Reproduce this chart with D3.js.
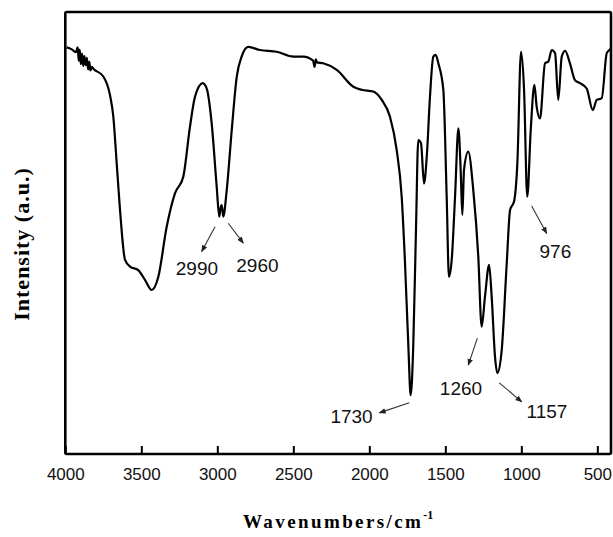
<!DOCTYPE html>
<html>
<head>
<meta charset="utf-8">
<script src="https://cdn.jsdelivr.net/npm/d3@7"></script>
<style>
  body { margin: 0; background: #fff; }
  svg { display: block; }
</style>
</head>
<body>
<div id="chart"></div>
<script>
// FTIR spectrum, values
var wavenumbers = [3991, 3960, 3930, 3925, 3918, 3912, 3905, 3898, 3890, 3882, 3875, 3866, 3858, 3850, 3842, 3835, 3825, 3816,
    3750, 3706, 3684, 3662, 3640, 3607, 3574, 3520, 3476, 3432, 3388, 3333, 3278, 3224, 3180, 3147, 3096, 3070,
    3037, 3004, 2987, 2979, 2971, 2961, 2938, 2905, 2872, 2840, 2796, 2719, 2609, 2500, 2434, 2370, 2360, 2352,
    2345, 2303, 2214, 2105, 2050, 1974, 1918, 1864, 1820, 1787, 1765, 1743, 1728, 1711, 1693, 1678, 1660, 1640,
    1622, 1601, 1579, 1563, 1546, 1513, 1491, 1476, 1458, 1436, 1414, 1399, 1388, 1377, 1349, 1316, 1283, 1261,
    1239, 1212, 1195, 1173, 1158, 1129, 1096, 1074, 1048, 1026, 1002, 982, 961, 938, 914, 899, 877, 844, 822,
    800, 778, 757, 734, 712, 680, 647, 614, 570, 530, 504, 471, 438, 421, 410];
var intensity = [92.0, 91.6, 90.9, 91.4, 92.0, 89.0, 91.5, 88.2, 90.6, 87.8, 90.0, 88.0, 89.6, 87.0, 88.7, 86.8, 87.6, 87.2,
    85.4, 81.2, 76.3, 65.8, 55.2, 43.9, 42.4, 41.6, 39.4, 37.1, 40.1, 51.4, 59.0, 62.7, 74.0, 80.8, 83.9, 82.7,
    74.8, 60.5, 53.7, 55.6, 56.3, 53.7, 59.7, 73.3, 85.4, 89.9, 92.1, 91.4, 91.0, 89.9, 89.9, 89.0, 87.6, 89.3,
    88.6, 88.4, 86.9, 83.1, 82.4, 82.0, 80.1, 76.3, 68.8, 58.2, 43.1, 24.3, 13.3, 24.3, 50.7, 71.0, 70.3, 61.2,
    67.3, 80.8, 89.9, 90.3, 88.4, 82.4, 58.2, 40.1, 43.9, 58.2, 73.7, 64.3, 54.1, 64.3, 68.4, 59.7, 44.6, 28.8,
    35.6, 42.8, 35.6, 22.0, 18.3, 23.5, 43.1, 55.2, 57.1, 65.8, 91.0, 82.4, 58.2, 73.3, 83.5, 78.6, 75.9, 88.4, 88.8,
    91.4, 90.7, 80.1, 89.9, 91.2, 88.4, 84.6, 83.9, 82.7, 77.8, 80.1, 80.5, 90.7, 91.4, 91.6];

var tickValues = [4000, 3500, 3000, 2500, 2000, 1500, 1000, 500];

// peak labels: text, label position, arrow start and arrow end (wavenumber, intensity)
var peakLabels = ["2990", "2960", "1730", "1260", "1157", "976"];
var labelAt = [[3134, 40.5], [2736, 41.2], [2117, 7.0], [1397, 13.3], [831, 8.1], [776, 44.3]];
var arrowFrom = [[3015, 51.4], [2928, 52.2], [1737, 11.6], [1289, 26.2], [1145, 16.1], [932, 56.1]];
var arrowTo = [[3103, 45.8], [2829, 47.7], [1934, 9.3], [1349, 20.1], [997, 11.8], [833, 49.9]];

var margin = { top: 12, right: 2, bottom: 83, left: 65.3 },
    width = 613 - margin.left - margin.right,
    height = 537 - margin.top - margin.bottom;

var xScale = d3.scaleLinear().domain([4000, 410]).range([0, width]);
var yScale = d3.scaleLinear().domain([0, 100]).range([height, 0]);

var data = wavenumbers.map(function (w, i) { return { w: w, v: intensity[i] }; });

var svg = d3.select("#chart").append("svg")
    .attr("width", 613)
    .attr("height", 537)
    .append("g")
    .attr("transform", "translate(" + margin.left + "," + margin.top + ")");

// arrow head
svg.append("defs").append("marker")
    .attr("id", "arrow")
    .attr("viewBox", "0 0 10 10")
    .attr("refX", 9).attr("refY", 5)
    .attr("markerWidth", 7).attr("markerHeight", 7)
    .attr("markerUnits", "userSpaceOnUse")
    .attr("orient", "auto")
    .append("path")
    .attr("d", "M0,1 L10,5 L0,9 Z")
    .attr("fill", "#222");

// bottom axis with inward ticks
var xAxis = d3.axisBottom(xScale)
    .tickValues(tickValues)
    .tickFormat(d3.format("d"))
    .tickSize(-8)
    .tickSizeOuter(0)
    .tickPadding(14);

var gx = svg.append("g")
    .attr("transform", "translate(0," + height + ")")
    .call(xAxis);
gx.select(".domain").remove();
gx.selectAll(".tick line").attr("stroke", "#000").attr("stroke-width", 2);
gx.selectAll(".tick text")
    .attr("fill", "#111")
    .style("font-family", "'Liberation Sans', Arial, sans-serif")
    .style("font-size", "17px");

// spectrum line
var line = d3.line()
    .x(function (d) { return xScale(d.w); })
    .y(function (d) { return yScale(d.v); })
    .curve(d3.curveMonotoneX);

svg.append("path")
    .datum(data)
    .attr("fill", "none")
    .attr("stroke", "#000")
    .attr("stroke-width", 2.2)
    .attr("stroke-linejoin", "round")
    .attr("d", line);

// frame
svg.append("rect")
    .attr("width", width)
    .attr("height", height)
    .attr("fill", "none")
    .attr("stroke", "#000")
    .attr("stroke-width", 2.6)
    .attr("rx", 1.5);

// peak annotations
svg.selectAll(".peak-arrow")
    .data(peakLabels)
    .enter().append("line")
    .attr("class", "peak-arrow")
    .attr("x1", function (d, i) { return xScale(arrowFrom[i][0]); })
    .attr("y1", function (d, i) { return yScale(arrowFrom[i][1]); })
    .attr("x2", function (d, i) { return xScale(arrowTo[i][0]); })
    .attr("y2", function (d, i) { return yScale(arrowTo[i][1]); })
    .attr("stroke", "#333")
    .attr("stroke-width", 1.1)
    .attr("marker-end", "url(#arrow)");

svg.selectAll(".peak-label")
    .data(peakLabels)
    .enter().append("text")
    .attr("class", "peak-label")
    .attr("x", function (d, i) { return xScale(labelAt[i][0]); })
    .attr("y", function (d, i) { return yScale(labelAt[i][1]); })
    .attr("text-anchor", "middle")
    .attr("fill", "#111")
    .style("font-family", "'Liberation Sans', Arial, sans-serif")
    .style("font-size", "19px")
    .text(function (d) { return d; });

// axis titles
var xTitle = svg.append("text")
    .attr("x", width / 2)
    .attr("y", height + 74)
    .attr("text-anchor", "middle")
    .style("font-family", "'Liberation Serif', 'Times New Roman', serif")
    .style("font-weight", "bold")
    .style("font-size", "19px")
    .style("letter-spacing", "2.4px");
xTitle.append("tspan").text("Wavenumbers/cm");
xTitle.append("tspan")
    .attr("dy", -9)
    .style("font-size", "12px")
    .style("letter-spacing", "0px")
    .text("-1");

svg.append("text")
    .attr("transform", "translate(" + (-36) + "," + (height / 2 + 11) + ") rotate(-90)")
    .attr("text-anchor", "middle")
    .style("font-family", "'Liberation Serif', 'Times New Roman', serif")
    .style("font-weight", "bold")
    .style("font-size", "22px")
    .style("letter-spacing", "1px")
    .text("Intensity (a.u.)");
</script>
</body>
</html>
